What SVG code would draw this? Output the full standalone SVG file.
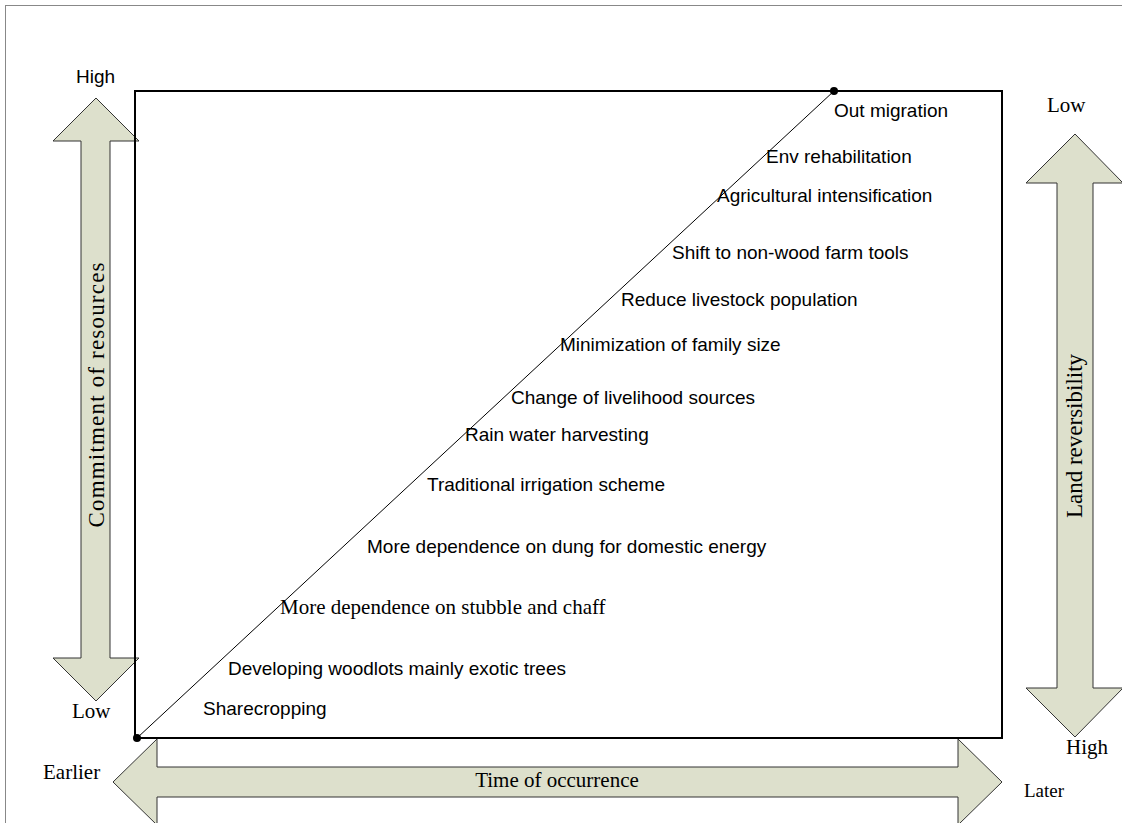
<svg xmlns="http://www.w3.org/2000/svg" width="1122" height="823" viewBox="0 0 1122 823">
<style>
.arrow{fill:#dde0cc;stroke:#333;stroke-width:1}
.sans{font-family:"Liberation Sans",Arial,sans-serif;font-size:19px;fill:#000}
.serif{font-family:"Liberation Serif","Times New Roman",serif;font-size:21px;fill:#000}
.axis{font-family:"Liberation Serif","Times New Roman",serif;font-size:23px;fill:#000}
</style>
<rect x="0" y="0" width="1122" height="823" fill="#fff"/>
<rect x="5.5" y="5.5" width="1130" height="830" fill="none" stroke="#888" stroke-width="1"/>
<g id="commitment-arrow">
<polygon class="arrow" points="96,98 139,141 110,141 110,658 139,658 96,701 53,658 81,658 81,141 53,141"/>
<text class="axis" transform="translate(104,395) rotate(-90)" text-anchor="middle" textLength="265" lengthAdjust="spacing">Commitment of  resources</text>
</g>
<g id="reversibility-arrow">
<polygon class="arrow" points="1075,134 1123,183 1093,183 1093,688 1123,688 1075,737 1026,688 1057,688 1057,183 1026,183"/>
<text class="axis" transform="translate(1082,436) rotate(-90)" text-anchor="middle">Land reversibility</text>
</g>
<g id="time-arrow">
<polygon class="arrow" points="113,782 157,739 157,767 958,767 958,739 1002,782 958,825 958,797 157,797 157,825"/>
<text class="serif" x="557" y="787" text-anchor="middle">Time of occurrence</text>
</g>
<g id="frame">
<rect x="135" y="91" width="867" height="647" fill="none" stroke="#000" stroke-width="2"/>
</g>
<g id="connectors">
<line x1="137" y1="738" x2="834" y2="91" stroke="#000" stroke-width="1"/>
<circle cx="137" cy="738" r="4" fill="#000"/>
<circle cx="834" cy="91" r="4" fill="#000"/>
</g>
<g id="axis-labels">
<text class="sans" x="76" y="83">High</text>
<text class="serif" x="72" y="718">Low</text>
<text class="serif" x="43" y="779">Earlier</text>
<text class="serif" x="1024" y="797" style="font-size:19px">Later</text>
<text class="serif" x="1066" y="754">High</text>
<text class="serif" x="1047" y="112">Low</text>
</g>
<g id="labels">
<text class="sans" x="834" y="117">Out migration</text>
<text class="sans" x="766" y="163">Env rehabilitation</text>
<text class="sans" x="717" y="202">Agricultural intensification</text>
<text class="sans" x="672" y="259">Shift to non-wood farm tools</text>
<text class="sans" x="621" y="306">Reduce livestock population</text>
<text class="sans" x="560" y="351">Minimization of family size</text>
<text class="sans" x="511" y="404">Change of livelihood sources</text>
<text class="sans" x="465" y="441">Rain water harvesting</text>
<text class="sans" x="427" y="491">Traditional irrigation scheme</text>
<text class="sans" x="367" y="553">More dependence on dung for domestic energy</text>
<text class="serif" x="280" y="614">More dependence on stubble and chaff</text>
<text class="sans" x="228" y="675">Developing woodlots mainly exotic trees</text>
<text class="sans" x="203" y="715">Sharecropping</text>
</g>
</svg>
